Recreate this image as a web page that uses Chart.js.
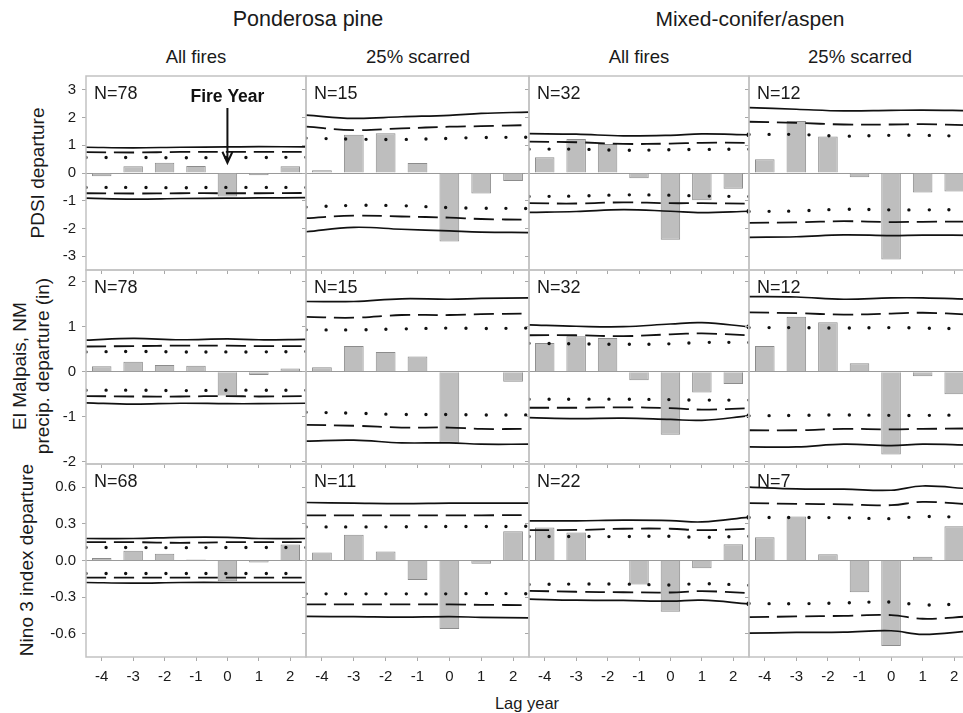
<!DOCTYPE html>
<html>
<head>
<meta charset="utf-8">
<title>Superposed epoch analysis - fire years</title>
<script src="https://cdn.jsdelivr.net/npm/chart.js@4.4.1/dist/chart.umd.min.js"></script>
<style>
    html, body { margin: 0; padding: 0; background: #fff; overflow: hidden; }
    body { width: 963px; height: 713px; position: relative; font-family: "Liberation Sans", Arial, sans-serif; color: #1a1a1a; }
    .txt { position: absolute; white-space: nowrap; transform: translate(-50%, -50%); }
    .vtxt { position: absolute; white-space: nowrap; text-align: center; transform: translate(-50%, -50%) rotate(-90deg); }
    canvas { position: absolute; }
</style>
</head>
<body>

<div class="txt" style="left:308px; top:19px; font-size:21.5px;">Ponderosa pine</div>
<div class="txt" style="left:750px; top:19px; font-size:21px;">Mixed-conifer/aspen</div>
<div class="txt" style="left:196px; top:57px; font-size:18.5px;">All fires</div>
<div class="txt" style="left:418px; top:57px; font-size:18.5px;">25% scarred</div>
<div class="txt" style="left:639px; top:57px; font-size:18.5px;">All fires</div>
<div class="txt" style="left:860px; top:57px; font-size:18.5px;">25% scarred</div>

<div class="vtxt" style="left:38px; top:173px; font-size:19px;">PDSI departure</div>
<div class="vtxt" style="left:31px; top:366px; font-size:19px; line-height:23px;">El Malpais, NM<br>precip. departure (in)</div>
<div class="vtxt" style="left:27px; top:560px; font-size:19px;">Nino 3 index departure</div>

<div class="txt" style="left:527px; top:703px; font-size:16.5px;">Lag year</div>

<script>
// ---- data ----
const lagYears = [-4, -3, -2, -1, 0, 1, 2];
// x positions where the confidence lines were read (panel edges are -4.5 and 2.5)
const lineX = [-4.5, -3, -1.5, 0, 1, 2.5];

// panel order in every array: pine all, pine 25%, mixed all, mixed 25%
const pdsiN = [78, 15, 32, 12];
const precipN = [78, 15, 32, 12];
const ninoN = [68, 11, 22, 7];

const pdsiTicks = [-3, -2, -1, 0, 1, 2, 3];
const precipTicks = [-2, -1, 0, 1, 2];
const ninoTicks = [-0.6, -0.3, 0, 0.3, 0.6];

// PDSI departure
const pdsiBars = [
    [-0.12, 0.24, 0.37, 0.25, -0.85, -0.08, 0.24],
    [0.10, 1.38, 1.43, 0.36, -2.47, -0.74, -0.29],
    [0.57, 1.23, 1.05, -0.19, -2.41, -0.98, -0.57],
    [0.50, 1.88, 1.32, -0.15, -3.12, -0.70, -0.67]
];
const pdsiSolidHi = [
    [0.93, 0.91, 0.93, 0.94, 0.95, 0.94],
    [2.09, 1.97, 2.03, 2.08, 2.15, 2.20],
    [1.42, 1.40, 1.34, 1.36, 1.41, 1.38],
    [2.36, 2.30, 2.24, 2.26, 2.27, 2.25]
];
const pdsiDashHi = [
    [0.75, 0.74, 0.76, 0.76, 0.76, 0.76],
    [1.67, 1.55, 1.61, 1.67, 1.69, 1.73],
    [1.13, 1.11, 1.05, 1.06, 1.09, 1.09],
    [1.85, 1.81, 1.75, 1.75, 1.76, 1.72]
];
const pdsiDotHi = [
    [0.56, 0.56, 0.55, 0.56, 0.56, 0.57],
    [1.26, 1.22, 1.21, 1.25, 1.28, 1.29],
    [0.86, 0.86, 0.82, 0.84, 0.85, 0.86],
    [1.39, 1.39, 1.33, 1.36, 1.36, 1.32]
];
const pdsiDotLo = [
    [-0.52, -0.52, -0.53, -0.52, -0.52, -0.52],
    [-1.23, -1.17, -1.18, -1.25, -1.27, -1.28],
    [-0.85, -0.83, -0.79, -0.80, -0.83, -0.85],
    [-1.39, -1.37, -1.31, -1.33, -1.33, -1.32]
];
const pdsiDashLo = [
    [-0.73, -0.74, -0.73, -0.73, -0.73, -0.72],
    [-1.63, -1.54, -1.57, -1.61, -1.66, -1.69],
    [-1.09, -1.10, -1.06, -1.09, -1.09, -1.11],
    [-1.80, -1.78, -1.74, -1.77, -1.76, -1.75]
];
const pdsiSolidLo = [
    [-0.91, -0.94, -0.92, -0.91, -0.90, -0.89],
    [-2.12, -1.96, -2.03, -2.09, -2.13, -2.15],
    [-1.42, -1.39, -1.32, -1.38, -1.43, -1.38],
    [-2.32, -2.30, -2.23, -2.26, -2.24, -2.25]
];

// El Malpais precipitation departure (in)
const precipBars = [
    [0.12, 0.22, 0.15, 0.13, -0.53, -0.07, 0.07],
    [0.10, 0.57, 0.44, 0.34, -1.58, -0.01, -0.22],
    [0.64, 0.79, 0.75, -0.19, -1.40, -0.46, -0.27],
    [0.57, 1.22, 1.10, 0.19, -1.84, -0.10, -0.50]
];
const precipSolidHi = [
    [0.70, 0.74, 0.71, 0.73, 0.71, 0.72],
    [1.56, 1.56, 1.62, 1.61, 1.63, 1.64],
    [1.04, 1.01, 1.00, 1.06, 1.09, 1.00],
    [1.67, 1.66, 1.61, 1.64, 1.64, 1.61]
];
const precipDashHi = [
    [0.56, 0.57, 0.58, 0.58, 0.57, 0.57],
    [1.22, 1.20, 1.26, 1.26, 1.28, 1.29],
    [0.81, 0.81, 0.79, 0.83, 0.85, 0.81],
    [1.32, 1.30, 1.27, 1.29, 1.31, 1.27]
];
const precipDotHi = [
    [0.44, 0.45, 0.44, 0.44, 0.44, 0.45],
    [0.93, 0.93, 0.95, 0.97, 0.96, 0.97],
    [0.63, 0.62, 0.61, 0.62, 0.65, 0.65],
    [0.98, 0.98, 0.97, 0.98, 0.97, 0.95]
];
const precipDotLo = [
    [-0.41, -0.41, -0.42, -0.41, -0.41, -0.41],
    [-0.90, -0.92, -0.95, -0.95, -0.96, -0.96],
    [-0.61, -0.61, -0.61, -0.62, -0.63, -0.63],
    [-0.98, -0.97, -0.96, -0.97, -0.97, -0.96]
];
const precipDashLo = [
    [-0.54, -0.55, -0.55, -0.54, -0.55, -0.54],
    [-1.18, -1.20, -1.24, -1.24, -1.27, -1.27],
    [-0.80, -0.80, -0.79, -0.81, -0.84, -0.81],
    [-1.30, -1.30, -1.27, -1.28, -1.27, -1.26]
];
const precipSolidLo = [
    [-0.69, -0.72, -0.70, -0.71, -0.71, -0.70],
    [-1.54, -1.52, -1.58, -1.58, -1.61, -1.61],
    [-1.02, -1.04, -1.03, -1.06, -1.08, -0.98],
    [-1.67, -1.67, -1.61, -1.64, -1.61, -1.63]
];

// Nino 3 index departure
const ninoBars = [
    [0.02, 0.08, 0.055, 0.008, -0.17, -0.016, 0.13],
    [0.065, 0.21, 0.074, -0.16, -0.56, -0.027, 0.24],
    [0.27, 0.23, 0.0, -0.196, -0.42, -0.063, 0.134],
    [0.19, 0.36, 0.052, -0.26, -0.70, 0.03, 0.28]
];
const ninoSolidHi = [
    [0.18, 0.18, 0.19, 0.19, 0.18, 0.18],
    [0.475, 0.47, 0.466, 0.47, 0.47, 0.47],
    [0.325, 0.325, 0.33, 0.327, 0.316, 0.355],
    [0.60, 0.586, 0.584, 0.575, 0.61, 0.586]
];
const ninoDashHi = [
    [0.15, 0.15, 0.145, 0.15, 0.15, 0.15],
    [0.37, 0.37, 0.37, 0.37, 0.37, 0.372],
    [0.248, 0.25, 0.26, 0.26, 0.248, 0.26],
    [0.47, 0.464, 0.46, 0.453, 0.48, 0.46]
];
const ninoDotHi = [
    [0.106, 0.106, 0.105, 0.106, 0.106, 0.106],
    [0.275, 0.275, 0.276, 0.278, 0.278, 0.28],
    [0.196, 0.196, 0.196, 0.199, 0.19, 0.199],
    [0.352, 0.352, 0.35, 0.343, 0.36, 0.352]
];
const ninoDotLo = [
    [-0.106, -0.106, -0.106, -0.106, -0.106, -0.106],
    [-0.273, -0.273, -0.273, -0.273, -0.27, -0.273],
    [-0.196, -0.193, -0.193, -0.2, -0.19, -0.202],
    [-0.352, -0.354, -0.347, -0.34, -0.363, -0.354]
];
const ninoDashLo = [
    [-0.14, -0.14, -0.14, -0.14, -0.14, -0.14],
    [-0.36, -0.36, -0.36, -0.36, -0.363, -0.365],
    [-0.248, -0.256, -0.26, -0.262, -0.251, -0.267],
    [-0.464, -0.458, -0.453, -0.447, -0.477, -0.458]
];
const ninoSolidLo = [
    [-0.18, -0.185, -0.18, -0.18, -0.18, -0.18],
    [-0.458, -0.46, -0.464, -0.46, -0.465, -0.47],
    [-0.316, -0.325, -0.327, -0.333, -0.325, -0.355],
    [-0.595, -0.589, -0.586, -0.575, -0.605, -0.578]
];

// ---- layout of the 3 x 4 grid (page pixels) ----
const colLeft = [86, 306, 529, 749];
const colWidth = [220, 223, 220, 221];
const rowTop = [76, 270, 464];
const rowHeight = [194, 194, 193];
const rowRange = [[-3.5, 3.5], [-2.05, 2.26], [-0.79, 0.79]];

const rows = [
    { n: pdsiN, ticks: pdsiTicks, bars: pdsiBars,
      lines: [pdsiSolidHi, pdsiDashHi, pdsiDotHi, pdsiDotLo, pdsiDashLo, pdsiSolidLo] },
    { n: precipN, ticks: precipTicks, bars: precipBars,
      lines: [precipSolidHi, precipDashHi, precipDotHi, precipDotLo, precipDashLo, precipSolidLo] },
    { n: ninoN, ticks: ninoTicks, bars: ninoBars,
      lines: [ninoSolidHi, ninoDashHi, ninoDotHi, ninoDotLo, ninoDashLo, ninoSolidLo] }
];
const lineStyles = ['solid', 'dash', 'dot', 'dot', 'dash', 'solid'];

const FONT = '"Liberation Sans", Arial, sans-serif';
Chart.defaults.font.family = FONT;
Chart.defaults.color = '#1a1a1a';

// light frame round each panel
const framePlugin = {
    id: 'frame',
    afterDatasetsDraw(chart) {
        const a = chart.chartArea;
        const ctx = chart.ctx;
        ctx.save();
        ctx.strokeStyle = '#c2c2c2';
        ctx.lineWidth = 1.5;
        ctx.strokeRect(a.left, a.top, a.right - a.left, a.bottom - a.top);
        ctx.restore();
    }
};

// "N=.." in the upper left corner
const sampleSizePlugin = {
    id: 'sampleSize',
    afterDraw(chart, args, opts) {
        const ctx = chart.ctx;
        ctx.save();
        ctx.font = '18px ' + FONT;
        ctx.fillStyle = '#1a1a1a';
        ctx.textAlign = 'left';
        ctx.textBaseline = 'middle';
        ctx.fillText('N=' + opts.n, chart.chartArea.left + 8, chart.chartArea.top + 18);
        ctx.restore();
    }
};

// "Fire Year" label with arrow, only in the first panel
const fireYearPlugin = {
    id: 'fireYear',
    afterDraw(chart) {
        const ctx = chart.ctx;
        const x = chart.scales.x.getPixelForValue(0);
        const top = chart.chartArea.top;
        const yEnd = chart.scales.y.getPixelForValue(0.37);
        ctx.save();
        ctx.font = 'bold 17.5px ' + FONT;
        ctx.fillStyle = '#111';
        ctx.textAlign = 'center';
        ctx.textBaseline = 'middle';
        ctx.fillText('Fire Year', x, top + 21);
        ctx.strokeStyle = '#111';
        ctx.lineWidth = 2;
        ctx.beginPath();
        ctx.moveTo(x, top + 32);
        ctx.lineTo(x, yEnd);
        ctx.moveTo(x - 5, yEnd - 11);
        ctx.lineTo(x, yEnd);
        ctx.lineTo(x + 5, yEnd - 11);
        ctx.stroke();
        ctx.restore();
    }
};

function ciLine(vals, style, markEnd) {
    const isDot = style === 'dot';
    return {
        type: 'line',
        data: lineX.map((x, i) => ({ x: x, y: vals[i] })),
        borderColor: '#111',
        borderWidth: isDot ? 3.4 : (style === 'dash' ? 1.8 : 1.7),
        borderDash: isDot ? [0, 20] : (style === 'dash' ? [20, 8] : []),
        borderCapStyle: isDot ? 'round' : 'butt',
        pointRadius: markEnd ? lineX.map((x, i) => i === lineX.length - 1 ? 2.5 : 0) : 0,
        pointBackgroundColor: '#111',
        pointBorderWidth: 0,
        tension: 0.4,
        fill: false,
        order: 0
    };
}

function makePanel(r, c) {
    const row = rows[r];
    // padding larger than half a tick label plus its padding, so the plot area stays where we put it
    const pad = 20;
    const yW = c === 0 ? 40 : 5;
    const xH = r === 2 ? 34 : 5;

    const canvas = document.createElement('canvas');
    canvas.width = colWidth[c] + yW + 2 * pad;
    canvas.height = rowHeight[r] + xH + 2 * pad;
    canvas.style.left = (colLeft[c] - yW - pad) + 'px';
    canvas.style.top = (rowTop[r] - pad) + 'px';
    document.body.appendChild(canvas);

    const datasets = [{
        type: 'bar',
        data: lagYears.map((x, i) => ({ x: x, y: row.bars[c][i] })),
        backgroundColor: '#bebebe',
        borderColor: '#8c8c8c',
        borderWidth: 1,
        barPercentage: 0.62,
        categoryPercentage: 1,
        order: 1
    }];
    row.lines.forEach((set, k) => {
        // the mixed-conifer "all fires" panels carry an end marker on the outer lines
        const markEnd = c === 2 && lineStyles[k] === 'solid';
        datasets.push(ciLine(set[c], lineStyles[k], markEnd));
    });

    const plugins = [framePlugin, sampleSizePlugin];
    if (r === 0 && c === 0) plugins.push(fireYearPlugin);

    new Chart(canvas.getContext('2d'), {
        type: 'bar',
        data: { datasets: datasets },
        plugins: plugins,
        options: {
            responsive: false,
            animation: false,
            events: [],
            layout: { padding: pad },
            plugins: {
                legend: { display: false },
                tooltip: { enabled: false },
                sampleSize: { n: row.n[c] }
            },
            scales: {
                x: {
                    type: 'linear',
                    min: -4.5,
                    max: 2.5,
                    offset: false,
                    afterBuildTicks: s => { s.ticks = lagYears.map(v => ({ value: v })); },
                    afterFit: s => { s.height = xH; },
                    border: { display: false },
                    grid: { offset: false, drawOnChartArea: false, tickLength: 4, color: '#a8a8a8', tickColor: '#a8a8a8' },
                    ticks: {
                        display: r === 2,
                        autoSkip: false,
                        maxRotation: 0,
                        padding: 7,
                        font: { size: 15 },
                        color: '#1a1a1a',
                        callback: v => String(v)
                    }
                },
                y: {
                    min: rowRange[r][0],
                    max: rowRange[r][1],
                    afterBuildTicks: s => { s.ticks = row.ticks.map(v => ({ value: v })); },
                    afterFit: s => { s.width = yW; },
                    border: { display: false },
                    grid: {
                        tickLength: 4,
                        tickColor: '#a8a8a8',
                        lineWidth: 1,
                        color: ctx => (ctx.tick && ctx.tick.value === 0) ? '#9a9a9a' : 'rgba(0,0,0,0)'
                    },
                    ticks: {
                        display: c === 0,
                        padding: 6,
                        font: { size: 15 },
                        color: '#1a1a1a',
                        callback: v => r === 2 ? v.toFixed(1) : String(v)
                    }
                }
            }
        }
    });
}

for (let r = 0; r < 3; r++) {
    for (let c = 0; c < 4; c++) {
        makePanel(r, c);
    }
}
</script>
</body>
</html>
